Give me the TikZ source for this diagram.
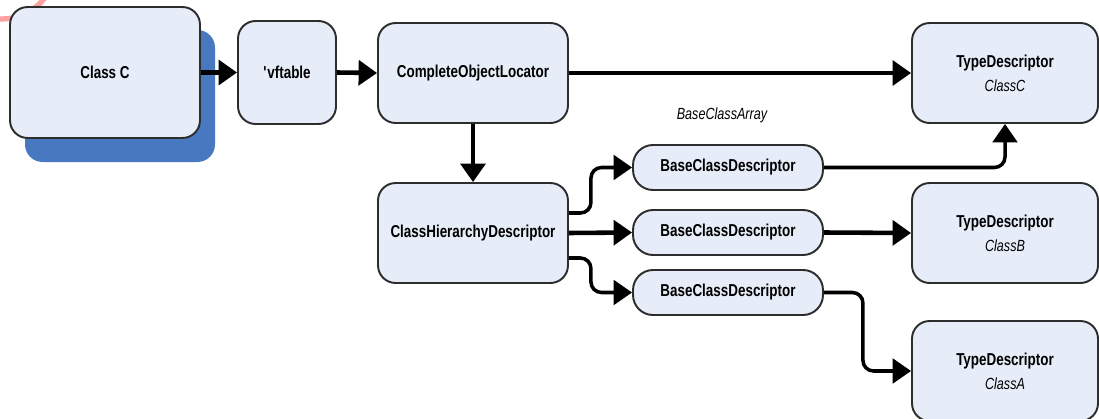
\documentclass[tikz,border=0pt]{standalone}
\usepackage{fontspec}
\setmainfont{Liberation Sans}[FakeStretch=0.78]
\usetikzlibrary{arrows.meta}
\definecolor{boxfill}{RGB}{231,237,248}
\definecolor{boxline}{RGB}{45,45,45}
\definecolor{shadowblue}{RGB}{72,120,192}
\definecolor{markred}{RGB}{250,160,160}
\newcommand{\clsfont}{\fontsize{9.2}{13.6}\selectfont\mdseries\itshape}
\tikzset{
  box/.style={draw=boxline, fill=boxfill, line width=1.1pt, rounded corners=10pt,
              font=\fontsize{9.8}{13.6}\selectfont\bfseries, align=center, inner sep=2pt},
  bigbox/.style={box, minimum width=3.8cm, minimum height=2cm},
  tdbox/.style={box, minimum width=3.72cm, minimum height=2cm},
  pill/.style={box, rounded corners=0.4cm, minimum width=3.8cm, minimum height=0.9cm},
  conn/.style={line width=2.6pt, -{Triangle[length=10.5pt,width=14pt]}},
  elbow/.style={conn, line width=2pt, rounded corners=6pt},
  cls/.style={font=\clsfont}
}
\begin{document}
\begin{tikzpicture}[x=0.02cm,y=-0.02cm]
  \useasboundingbox (0,0) rectangle (1099,419);
  \fill[white] (0,0) rectangle (1099,419);
  % red mark in the corner
  \begin{scope}
    \clip (0,0) rectangle (1099,419);
    \draw[markred, line width=3pt] (2,-35) circle[radius=1.08cm];
  \end{scope}
  % the object and its tables
  \fill[shadowblue, rounded corners=10pt] (25,30) rectangle (215,162);
  \node[bigbox, minimum height=2.62cm] (cc) at (105,72.5) {Class C};
  \node[box, minimum width=1.96cm, minimum height=2.06cm] (vft) at (287,72.5) {\textquotesingle vftable};
  \node[bigbox] (col) at (473,73) {CompleteObjectLocator};
  \node[bigbox] (chd) at (473,233) {ClassHierarchyDescriptor};
  \node[pill] (bcd1) at (728,167.5) {BaseClassDescriptor};
  \node[pill] (bcd2) at (728,232.5) {BaseClassDescriptor};
  \node[pill] (bcd3) at (728,292.5) {BaseClassDescriptor};
  \node[cls] (bca) at (722,115) {BaseClassArray};
  \node[tdbox] (tdc) at (1005,73) {TypeDescriptor\\{\clsfont ClassC}};
  \node[tdbox] (tdb) at (1005,233) {TypeDescriptor\\{\clsfont ClassB}};
  \node[tdbox] (tda) at (1005,371) {TypeDescriptor\\{\clsfont ClassA}};
  % links
  \draw[conn] (cc.east) -- (vft.west);
  \draw[conn] (vft.east) -- (col.west);
  \draw[conn] (col.east) -- (tdc.west);
  \draw[conn] (col.south) -- (chd.north);
  \draw[elbow] ([yshift=0.4cm]chd.east) -- ++(22,0) |- (bcd1.west);
  \draw[conn] (chd.east) -- (bcd2.west);
  \draw[elbow] ([yshift=-0.5cm]chd.east) -- ++(22,0) |- (bcd3.west);
  \draw[elbow] (bcd1.east) -| (tdc.south);
  \draw[conn] (bcd2.east) -- (tdb.west);
  \draw[elbow] (bcd3.east) -- ++(39,0) |- (tda.west);
\end{tikzpicture}
\end{document}
